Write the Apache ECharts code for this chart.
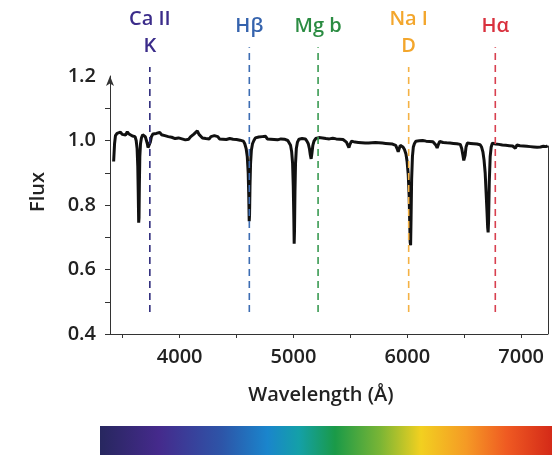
<!DOCTYPE html>
<html>
<head>
<meta charset="utf-8">
<script src="https://cdn.jsdelivr.net/npm/echarts@6/dist/echarts.min.js"></script>
<style>
html,body{margin:0;padding:0;background:#fff;}
#chart{width:559px;height:456px;}
</style>
</head>
<body>
<div id="chart"></div>
<script>
// ---- data ----
const spectrum = [
[3420,0.935],[3428,0.99],[3436,1.015],[3450,1.022],[3465,1.016],[3480,1.026],[3495,1.019],[3510,1.024],[3525,1.017],[3540,1.027],[3555,1.02],[3570,1.023],[3585,1.014],[3598,1.02],[3608,1.012],[3618,1.0],
[3626,0.975],[3632,0.92],[3636,0.84],[3640,0.745],[3643,0.76],[3646,0.86],[3650,0.95],[3656,0.99],[3664,1.008],
[3675,1.018],[3686,1.021],[3698,1.012],[3708,1.0],[3716,0.99],[3722,0.978],[3728,0.974],[3734,0.98],[3742,0.995],[3752,1.012],[3765,1.02],
[3780,1.015],[3795,1.022],[3810,1.017],[3825,1.025],[3840,1.018],[3855,1.021],[3870,1.015],[3885,1.02],[3900,1.012],[3915,1.017],[3930,1.01],[3945,1.014],[3960,1.006],[3975,1.012],[3990,1.008],[4005,1.013],[4020,1.005],[4035,1.009],[4050,1.002],[4065,1.008],[4080,1.004],[4095,1.011],[4110,1.012],[4125,1.02],[4140,1.026],[4155,1.03],[4170,1.019],[4185,1.013],[4200,1.008],[4215,1.014],[4230,1.006],[4245,1.011],[4260,1.005],[4275,1.012],[4290,1.007],[4305,1.015],[4320,1.009],[4335,1.012],[4350,1.005],[4365,1.01],[4380,1.004],[4395,1.009],[4410,1.003],[4425,1.008],[4440,1.006],[4455,1.011],[4470,1.004],[4485,1.008],[4500,1.003],[4515,1.007],[4530,1.001],[4545,1.004],
[4560,0.998],[4572,0.99],[4584,0.975],[4594,0.95],[4602,0.9],[4607,0.83],[4611,0.75],[4614,0.77],[4618,0.86],[4623,0.93],[4630,0.97],[4640,0.99],[4652,1.0],[4665,1.008],
[4680,1.004],[4695,1.011],[4710,1.006],[4725,1.012],[4740,1.008],[4755,1.013],[4770,1.005],[4785,1.01],[4800,1.004],[4815,1.009],[4830,1.003],[4845,1.008],[4860,1.002],[4875,1.007],[4890,1.005],[4905,1.01],[4920,1.004],[4935,1.008],[4950,1.0],
[4962,0.995],[4974,0.985],[4984,0.965],[4992,0.93],[4998,0.86],[5003,0.76],[5006,0.68],[5009,0.72],[5013,0.84],[5018,0.93],[5025,0.975],[5035,0.995],[5048,1.004],
[5062,1.0],[5076,1.006],[5090,1.002],[5104,1.005],[5118,0.998],[5130,0.99],[5140,0.975],[5148,0.955],[5155,0.943],[5162,0.96],[5170,0.985],[5180,0.998],
[5195,1.006],[5210,1.002],[5225,1.009],[5240,1.004],[5255,1.008],[5270,1.002],[5285,1.006],[5300,1.0],[5315,1.005],[5330,1.001],[5345,1.007],[5360,1.002],[5375,1.005],[5390,0.999],[5405,1.004],[5420,0.998],[5435,1.003],[5450,0.997],
[5465,0.995],[5478,0.985],[5487,0.978],[5496,0.988],[5510,0.998],[5525,1.0],[5540,0.995],[5555,1.0],[5570,0.994],[5585,0.999],[5600,0.993],[5615,0.998],[5630,0.992],[5645,0.997],[5660,0.992],[5675,0.998],[5690,0.993],[5705,0.999],[5720,0.994],[5735,0.998],[5750,0.993],[5765,0.997],[5780,0.992],[5795,0.996],[5810,0.991],[5825,0.995],[5840,0.99],[5855,0.994],[5870,0.989],[5885,0.992],
[5898,0.985],[5910,0.975],[5920,0.965],[5928,0.97],[5938,0.985],[5950,0.988],[5962,0.98],[5975,0.972],[5988,0.958],[5998,0.935],[6008,0.895],[6016,0.83],[6021,0.75],[6025,0.685],[6029,0.675],[6033,0.76],[6038,0.88],[6045,0.95],[6053,0.98],[6062,0.99],
[6075,0.998],[6090,1.004],[6105,0.999],[6120,1.005],[6135,1.0],[6150,1.004],[6165,0.998],[6180,1.003],[6195,0.997],[6210,1.002],[6225,0.996],
[6240,0.995],[6252,0.985],[6262,0.977],[6272,0.987],[6285,0.997],[6300,1.0],[6315,0.994],[6330,0.999],[6345,0.993],[6360,0.998],[6375,0.992],[6390,0.997],[6405,0.991],[6420,0.996],[6435,0.99],[6450,0.994],
[6465,0.988],[6478,0.975],[6488,0.955],[6496,0.938],[6502,0.935],[6508,0.955],[6516,0.98],[6528,0.992],[6542,0.997],[6556,0.991],[6570,0.996],[6584,0.99],[6598,0.995],[6612,0.989],[6626,0.993],[6640,0.987],
[6652,0.98],[6664,0.965],[6674,0.94],[6684,0.9],[6692,0.84],[6700,0.78],[6706,0.73],[6710,0.715],[6714,0.75],[6720,0.87],[6728,0.95],[6737,0.98],[6748,0.992],
[6760,0.995],[6775,0.989],[6790,0.994],[6805,0.988],[6820,0.993],[6835,0.986],[6850,0.991],[6865,0.985],[6880,0.99],[6895,0.984],[6910,0.989],[6925,0.983],[6940,0.978],[6950,0.976],[6962,0.986],[6975,0.99],[6990,0.984],[7005,0.989],[7020,0.983],[7035,0.988],[7050,0.982],[7065,0.987],[7080,0.981],[7095,0.986],[7110,0.98],[7125,0.985],[7140,0.979],[7155,0.984],[7170,0.98],[7185,0.975],[7195,0.982],[7210,0.986],[7222,0.981],[7234,0.984]
];

const lineNames = ['Ca II\nK', 'Hβ', 'Mg b', 'Na I\nD', 'Hα'];
const lineWavelengths = [3738, 4612, 5216, 6012, 6773];
const lineTops = [1.228, 1.289, 1.289, 1.228, 1.289];
const lineBottom = 0.468;
const lineColors = ['#3b2c8a', '#3563ad', '#2b8c42', '#f3a62c', '#d9313e'];
const dashColors = ['#2f2c7c', '#3d6db3', '#3a9a52', '#f4b245', '#d8404f'];

const xTicks = [3500, 4000, 4500, 5000, 5500, 6000, 6500, 7000];
const xLabels = [4000, 5000, 6000, 7000];
const yTicks = [0.4, 0.5, 0.6, 0.7, 0.8, 0.9, 1.0, 1.1];
const yLabels = [0.4, 0.6, 0.8, 1.0, 1.2];
const xMin = 3388, xMax = 7236, yMin = 0.4, yMax = 1.2;

const spectrumColors = ['#27275f','#452a8c','#2d55a8','#1a85cc','#14a0a8','#1a9a48','#7ab535','#f2d020','#f59a25','#ef5a22','#d42a18'];
const spectrumStops = [0, 0.13, 0.27, 0.37, 0.44, 0.52, 0.62, 0.71, 0.81, 0.9, 1];

// ---- chart ----
const FONT = 'Open Sans';
const FS = 20;
const FW = 600;
const chart = echarts.init(document.getElementById('chart'), null, {renderer: 'canvas'});
const last = spectrum[spectrum.length - 1];

const markerSeries = lineNames.map((name, i) => ({
  type: 'line',
  name: name,
  clip: false,
  silent: true,
  animation: false,
  z: 5,
  showSymbol: true,
  symbol: 'circle',
  symbolSize: 0.01,
  lineStyle: {color: dashColors[i], width: 1.6, type: [7, 5]},
  itemStyle: {color: dashColors[i]},
  data: [
    [lineWavelengths[i], lineBottom],
    {value: [lineWavelengths[i], lineTops[i]],
     label: {show: true, position: 'top', distance: 7, formatter: name,
             color: lineColors[i], fontFamily: FONT, fontSize: 20, fontWeight: FW, lineHeight: 27, align: 'center'}}
  ]
}));

chart.setOption({
  animation: false,
  backgroundColor: '#ffffff',
  grid: {left: 110, right: 11, top: 76, bottom: 122, containLabel: false},
  xAxis: {
    type: 'value', min: xMin, max: xMax,
    name: 'Wavelength (Å)', nameLocation: 'middle', nameGap: 51,
    nameTextStyle: {fontFamily: FONT, fontSize: FS, fontWeight: FW, color: '#222', padding: [0, 16, 0, 0]},
    axisLine: {show: true, lineStyle: {color: '#333', width: 1}},
    axisTick: {show: true, inside: false, length: 4, customValues: xTicks, lineStyle: {color: '#333'}},
    axisLabel: {customValues: xLabels, margin: 13, fontFamily: FONT, fontSize: FS, fontWeight: FW, color: '#222',
                formatter: v => String(v)},
    splitLine: {show: false}
  },
  yAxis: {
    type: 'value', min: yMin, max: yMax,
    name: 'Flux', nameLocation: 'middle', nameGap: 62, nameRotate: 90,
    nameTextStyle: {fontFamily: FONT, fontSize: FS, fontWeight: FW, color: '#222', padding: [0, 0, 0, 26]},
    axisLine: {show: true, symbol: ['none', 'arrow'], symbolSize: [6, 10], lineStyle: {color: '#333', width: 1}},
    axisTick: {show: true, inside: false, length: 5, customValues: yTicks, lineStyle: {color: '#333'}},
    axisLabel: {customValues: yLabels, margin: 14, fontFamily: FONT, fontSize: FS, fontWeight: FW, color: '#222',
                formatter: v => v.toFixed(1)},
    splitLine: {show: false}
  },
  graphic: [{
    type: 'rect',
    shape: {x: 100, y: 426, width: 452, height: 29},
    style: {
      fill: new echarts.graphic.LinearGradient(0, 0, 1, 0,
        spectrumStops.map((o, i) => ({offset: o, color: spectrumColors[i]})))
    },
    silent: true
  }],
  series: [{
    type: 'line',
    name: 'spectrum',
    data: spectrum,
    showSymbol: false,
    symbol: 'none',
    z: 3,
    lineStyle: {color: '#111', width: 3},
    markLine: {
      silent: true, symbol: ['none', 'none'], label: {show: false},
      lineStyle: {color: '#333', width: 1, type: 'solid'},
      data: [[{coord: [last[0], last[1]]}, {coord: [last[0], yMin]}]]
    }
  }].concat(markerSeries)
});
</script>
</body>
</html>
